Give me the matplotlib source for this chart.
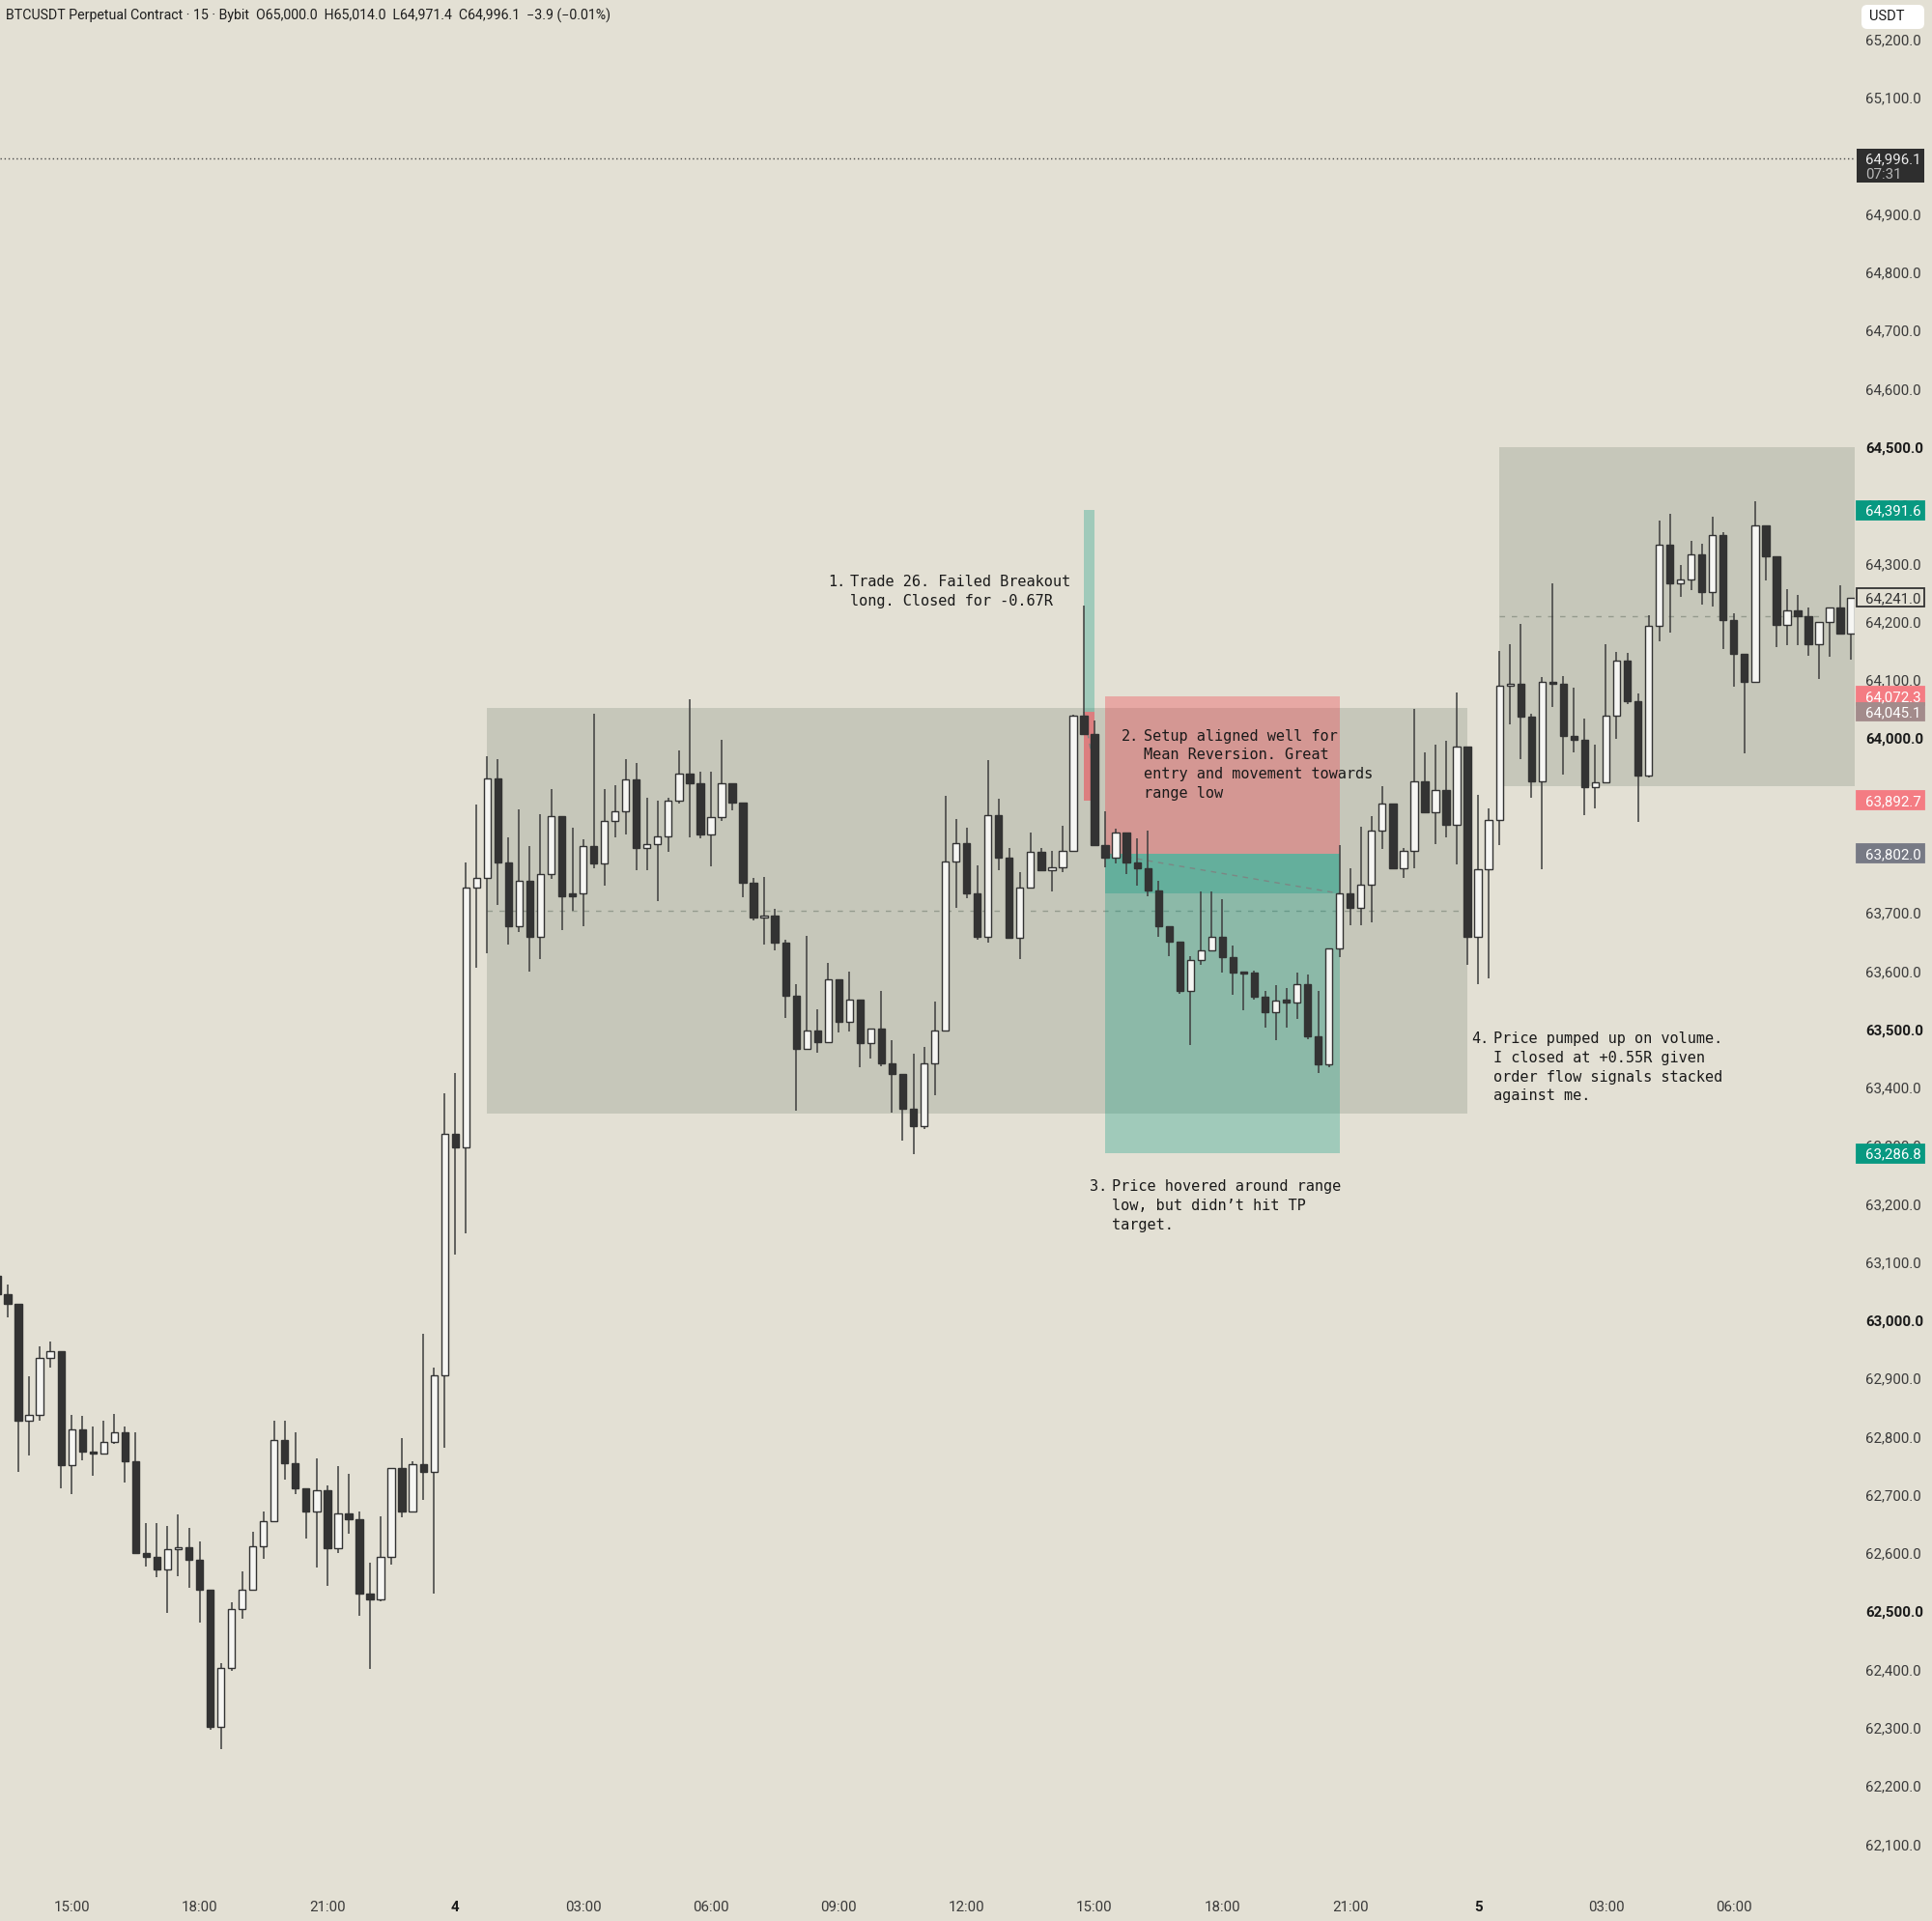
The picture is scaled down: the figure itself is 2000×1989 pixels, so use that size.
import numpy as np
import pandas as pd
import matplotlib
matplotlib.use("Agg")
import matplotlib.pyplot as plt
from matplotlib.patches import Rectangle, FancyBboxPatch
from matplotlib.transforms import blended_transform_factory

# 15m candles, BTCUSDT perp (Bybit), starting 13:15 on the 3rd
open_ = [63077, 63045, 63029, 62827, 62837, 62935, 62947, 62751, 62813, 62775,
         62771, 62791, 62808, 62757, 62601, 62594, 62572, 62607, 62610, 62588,
         62537, 62301, 62403, 62504, 62537, 62612, 62655, 62795, 62754, 62712,
         62671, 62708, 62609, 62668, 62659, 62530, 62521, 62594, 62746, 62671,
         62752, 62739, 62906, 63320, 63297, 63744, 63760, 63931, 63787, 63677,
         63755, 63658, 63766, 63866, 63733, 63733, 63815, 63785, 63857, 63875,
         63929, 63811, 63818, 63831, 63892, 63939, 63922, 63834, 63864, 63923,
         63889, 63751, 63691, 63695, 63649, 63557, 63466, 63498, 63477, 63585,
         63512, 63550, 63476, 63501, 63441, 63423, 63364, 63334, 63441, 63498,
         63788, 63820, 63733, 63658, 63868, 63795, 63657, 63744, 63804, 63773,
         63778, 63807, 64039, 64007, 63816, 63795, 63837, 63787, 63776, 63738,
         63676, 63651, 63565, 63618, 63635, 63659, 63624, 63599, 63597, 63555,
         63529, 63550, 63546, 63577, 63488, 63439, 63638, 63733, 63708, 63748,
         63841, 63888, 63776, 63807, 63926, 63873, 63911, 63851, 63986, 63659,
         63774, 63859, 64090, 64094, 64036, 63925, 64096, 64093, 64003, 63997,
         63916, 63924, 64038, 64133, 64063, 63936, 64192, 64332, 64266, 64272,
         64315, 64251, 64348, 64203, 64145, 64096, 64365, 64312, 64194, 64219,
         64210, 64161, 64200, 64225, 64179]
high = [63090, 63062, 63029, 62904, 62956, 62964, 62947, 62837, 62835, 62817,
        62828, 62839, 62817, 62808, 62652, 62651, 62647, 62667, 62644, 62620,
        62537, 62411, 62515, 62568, 62636, 62672, 62828, 62828, 62808, 62712,
        62763, 62717, 62750, 62737, 62672, 62583, 62663, 62746, 62797, 62757,
        62977, 62919, 63390, 63425, 63786, 63886, 63969, 63963, 63829, 63878,
        63814, 63870, 63912, 63866, 63846, 63826, 64041, 63913, 63919, 63964,
        63957, 63897, 63892, 63897, 63979, 64066, 63943, 63943, 63997, 63923,
        63889, 63759, 63762, 63707, 63654, 63577, 63661, 63534, 63614, 63585,
        63599, 63550, 63501, 63565, 63481, 63423, 63458, 63470, 63548, 63900,
        63861, 63846, 63781, 63962, 63895, 63811, 63769, 63838, 63812, 63807,
        63850, 64040, 64228, 64031, 63874, 63845, 63837, 63827, 63841, 63754,
        63676, 63651, 63625, 63737, 63737, 63723, 63643, 63599, 63601, 63565,
        63575, 63570, 63598, 63594, 63566, 63638, 63816, 63776, 63848, 63866,
        63917, 63888, 63812, 64050, 63975, 63989, 63996, 64079, 63986, 63903,
        63880, 64150, 64162, 64196, 64041, 64105, 64265, 64106, 64086, 64033,
        63988, 64162, 64148, 64146, 64077, 64211, 64374, 64385, 64298, 64339,
        64334, 64380, 64354, 64214, 64145, 64406, 64365, 64312, 64256, 64245,
        64225, 64200, 64225, 64262, 64241]
low = [63040, 63005, 62740, 62768, 62827, 62918, 62711, 62701, 62759, 62733,
       62769, 62788, 62721, 62601, 62577, 62558, 62497, 62561, 62541, 62481,
       62297, 62264, 62398, 62488, 62537, 62591, 62655, 62726, 62702, 62625,
       62576, 62543, 62600, 62634, 62493, 62401, 62518, 62581, 62662, 62671,
       62692, 62530, 62781, 63112, 63149, 63606, 63630, 63713, 63645, 63667,
       63599, 63621, 63758, 63670, 63704, 63677, 63776, 63746, 63829, 63834,
       63773, 63773, 63720, 63805, 63887, 63829, 63827, 63780, 63858, 63876,
       63726, 63686, 63646, 63635, 63519, 63360, 63465, 63460, 63477, 63495,
       63496, 63435, 63450, 63437, 63357, 63308, 63285, 63329, 63386, 63498,
       63708, 63725, 63654, 63649, 63773, 63657, 63620, 63744, 63773, 63737,
       63770, 63807, 64007, 63816, 63778, 63785, 63767, 63747, 63728, 63658,
       63625, 63561, 63473, 63610, 63635, 63598, 63559, 63533, 63550, 63503,
       63481, 63503, 63518, 63483, 63424, 63435, 63624, 63678, 63678, 63683,
       63809, 63776, 63759, 63776, 63873, 63818, 63829, 63783, 63610, 63578,
       63587, 63816, 64024, 63964, 63898, 63775, 64053, 63937, 63975, 63867,
       63879, 63924, 63999, 64059, 63856, 63933, 64167, 64181, 64243, 64254,
       64229, 64226, 64153, 64088, 63974, 64096, 64271, 64157, 64159, 64159,
       64142, 64102, 64139, 64178, 64135]
close = [63045, 63028, 62827, 62837, 62935, 62947, 62751, 62813, 62775, 62771,
         62791, 62808, 62757, 62601, 62594, 62572, 62607, 62610, 62588, 62537,
         62301, 62403, 62504, 62537, 62612, 62655, 62795, 62754, 62712, 62671,
         62708, 62609, 62668, 62659, 62530, 62521, 62594, 62746, 62671, 62752,
         62739, 62906, 63320, 63297, 63744, 63760, 63931, 63787, 63677, 63755,
         63658, 63766, 63866, 63729, 63729, 63815, 63785, 63857, 63875, 63929,
         63811, 63818, 63831, 63892, 63939, 63922, 63834, 63864, 63923, 63889,
         63751, 63691, 63695, 63649, 63557, 63466, 63498, 63477, 63585, 63512,
         63550, 63476, 63501, 63441, 63423, 63364, 63334, 63441, 63498, 63788,
         63820, 63733, 63658, 63868, 63795, 63657, 63744, 63804, 63773, 63778,
         63807, 64039, 64007, 63816, 63795, 63837, 63787, 63776, 63738, 63676,
         63651, 63565, 63618, 63635, 63659, 63624, 63597, 63596, 63555, 63529,
         63549, 63546, 63577, 63488, 63439, 63638, 63733, 63708, 63748, 63841,
         63888, 63776, 63807, 63926, 63873, 63911, 63851, 63986, 63659, 63774,
         63859, 64090, 64094, 64036, 63925, 64096, 64093, 64003, 63997, 63916,
         63924, 64038, 64133, 64063, 63936, 64192, 64332, 64266, 64272, 64315,
         64251, 64348, 64203, 64145, 64096, 64365, 64312, 64194, 64219, 64210,
         64161, 64200, 64225, 64179, 64241]

times = pd.date_range("2024-04-03 13:15", periods=len(close), freq="15min")

# ranges (first candle, last candle, low, high)
range_day4 = (46, 138, 63355, 64051)
range_day5 = (141, 181, 63918, 64500)

# position tool: (first candle, last candle, entry, target, stop, exit)
long_trade = (102, 103, 64045.1, 64391.6, 63892.7, 63943.0)
short_trade = (104, 126, 63802.0, 63286.8, 64072.3, 63733.0)

last_price = 64996.1
last_close_tag = 64241.0

notes = [
    ("1.", ["Trade 26. Failed Breakout", "long. Closed for -0.67R"], 77.97, 80.06, 64271),
    ("2.", ["Setup aligned well for", "Mean Reversion. Great",
            "entry and movement towards", "range low"], 105.5, 107.6, 64006),
    ("3.", ["Price hovered around range", "low, but didn\u2019t hit TP", "target."],
     102.5, 104.6, 63232),
    ("4.", ["Price pumped up on volume.", "I closed at +0.55R given",
            "order flow signals stacked", "against me."], 138.4, 140.4, 63486),
]

BG = "#e3e0d4"
BOX = "#c6c7ba"
DARK = "#333333"
WHITE = "#f6f6f3"
RED = (0.949, 0.212, 0.271)
GREEN = (0.031, 0.600, 0.506)
SANS = ["Roboto", "DejaVu Sans"]
MONO = "DejaVu Sans Mono"

plt.rcParams["font.family"] = SANS

fig = plt.figure(figsize=(20, 19.89), dpi=100, facecolor=BG)
ax = fig.add_axes([0, 31 / 1989, 0.96, 1958 / 1989])
ax.set_facecolor(BG)
ax.set_xlim(0.2747, 174.35)
ax.set_ylim(62019.6, 65267.7)
for s in ax.spines.values():
    s.set_visible(False)

# range boxes
for x0, x1, lo, hi in [range_day4, range_day5]:
    ax.add_patch(Rectangle((x0, lo), x1 - x0, hi - lo, facecolor=BOX, edgecolor="none", zorder=1))
    ax.plot([x0, x1], [(lo + hi) / 2] * 2, color="#959b8e", lw=1.0, ls=(0, (4, 5)), zorder=1.5)

# position tools
def position(x0, x1, entry, target, stop, exit_, red_alpha):
    w = x1 - x0
    ax.add_patch(Rectangle((x0, min(entry, stop)), w, abs(stop - entry),
                           facecolor=(*RED, red_alpha), edgecolor="none", zorder=2))
    ax.add_patch(Rectangle((x0, min(entry, target)), w, abs(target - entry),
                           facecolor=(*GREEN, 0.3), edgecolor="none", zorder=2))
    ax.plot([x0, x1], [entry, exit_], color="#7c8784", lw=1.0, ls=(0, (4, 4)), zorder=2.2)

position(*long_trade, red_alpha=0.5)
position(*short_trade, red_alpha=0.33)
sx0, sx1, sentry, _, _, sexit = short_trade
ax.add_patch(Rectangle((sx0, sexit), sx1 - sx0, sentry - sexit,
                       facecolor=(*GREEN, 0.3), edgecolor="none", zorder=2.1))

# last price dotted line
ax.axhline(last_price, color="#4a4a4a", lw=1.0, ls=(0, (1, 2)), zorder=2)

# candles
o = np.array(open_, dtype=float)
h = np.array(high, dtype=float)
l = np.array(low, dtype=float)
c = np.array(close, dtype=float)
x = np.arange(len(c))
up = c >= o
ax.vlines(x, l, h, color="#3d3d3d", lw=1.1, zorder=3)
body = np.maximum(np.abs(c - o), 3.0)
ax.bar(x, body, bottom=np.minimum(o, c), width=0.66,
       color=np.where(up, WHITE, DARK), edgecolor=DARK, linewidth=1.0, zorder=3.5)

# annotations
for num, lines, xn, xt, y0 in notes:
    ax.text(xn, y0, num, family=MONO, fontsize=11, color="#1a1a1a", va="center_baseline", zorder=5)
    for k, line in enumerate(lines):
        ax.text(xt, y0 - k * 32.8, line, family=MONO, fontsize=11, color="#1a1a1a",
                va="center_baseline", zorder=5)

# price axis
yt = np.arange(62100, 65201, 100)
ax.yaxis.tick_right()
ax.set_yticks(yt)
ax.set_yticklabels([f"{v:,.1f}" for v in yt])
ax.tick_params(axis="y", length=0, pad=8, labelsize=10.8, labelcolor="#3a3a3a")
for v, lbl in zip(yt, ax.get_yticklabels()):
    if v % 500 == 0:
        lbl.set_fontweight("bold")
        lbl.set_color("#1a1a1a")

# time axis
tick_idx = [i for i, t in enumerate(times) if t.minute == 0 and t.hour % 3 == 0]
tick_lbl = [str(times[i].day) if times[i].hour == 0 else times[i].strftime("%H:%M") for i in tick_idx]
ax.set_xticks(tick_idx)
ax.set_xticklabels(tick_lbl)
ax.tick_params(axis="x", length=0, pad=7, labelsize=10.8, labelcolor="#3a3a3a")
for i, lbl in zip(tick_idx, ax.get_xticklabels()):
    if times[i].hour == 0:
        lbl.set_fontweight("bold")
        lbl.set_color("#1a1a1a")

# price tags on the scale
tr = blended_transform_factory(ax.transAxes, ax.transData)

def price_tag(price, text, face, color="white", edge=None, height=31.5):
    ax.add_patch(Rectangle((1.001, price - height / 2), 0.0365, height, transform=tr,
                           facecolor=face, edgecolor=edge or face, lw=1.3,
                           clip_on=False, zorder=6))
    ax.text(1.0057, price, text, transform=tr, ha="left", va="center_baseline",
            color=color, fontsize=10.8, clip_on=False, zorder=7)

price_tag(long_trade[3], f"{long_trade[3]:,.1f}", "#089981")
price_tag(last_close_tag, f"{last_close_tag:,.1f}", BG, color="#333333", edge="#333333")
price_tag(short_trade[4], f"{short_trade[4]:,.1f}", "#f47c83")
price_tag(long_trade[2], f"{long_trade[2]:,.1f}", "#a38b8b")
price_tag(long_trade[4], f"{long_trade[4]:,.1f}", "#f47c83")
price_tag(short_trade[2], f"{short_trade[2]:,.1f}", "#777a85")
price_tag(short_trade[3], f"{short_trade[3]:,.1f}", "#089981")

ax.add_patch(Rectangle((1.001, 64954.2), 0.0365, 57.5, transform=tr, facecolor="#2e2e2e",
                       edgecolor="none", clip_on=False, zorder=6))
ax.text(1.0057, 64996.5, f"{last_price:,.1f}", transform=tr, ha="left", va="center_baseline",
        color="#ececec", fontsize=10.8, clip_on=False, zorder=7)
ax.text(1.0057, 64970.0, "07:31", transform=tr, ha="left", va="center_baseline",
        color="#b8b8b8", fontsize=10.8, clip_on=False, zorder=7)

# currency badge and header
fig.patches.append(FancyBboxPatch((1927 / 2000, 1 - 30 / 1989), 65 / 2000, 25 / 1989,
                                  boxstyle="round,pad=0,rounding_size=0.003",
                                  transform=fig.transFigure, facecolor="white",
                                  edgecolor="none", zorder=6))
fig.text(1935 / 2000, 1 - 17 / 1989, "USDT", ha="left", va="center", fontsize=10.5,
         color="#1a1a1a", zorder=7)
fig.text(6 / 2000, 1 - 16 / 1989,
         "BTCUSDT Perpetual Contract \u00b7 15 \u00b7 Bybit  O65,000.0  H65,014.0  "
         "L64,971.4  C64,996.1  \u22123.9 (\u22120.01%)",
         ha="left", va="center", fontsize=10.2, color="#1e1e1e")

fig.savefig("out.png", dpi=100, facecolor=BG)
